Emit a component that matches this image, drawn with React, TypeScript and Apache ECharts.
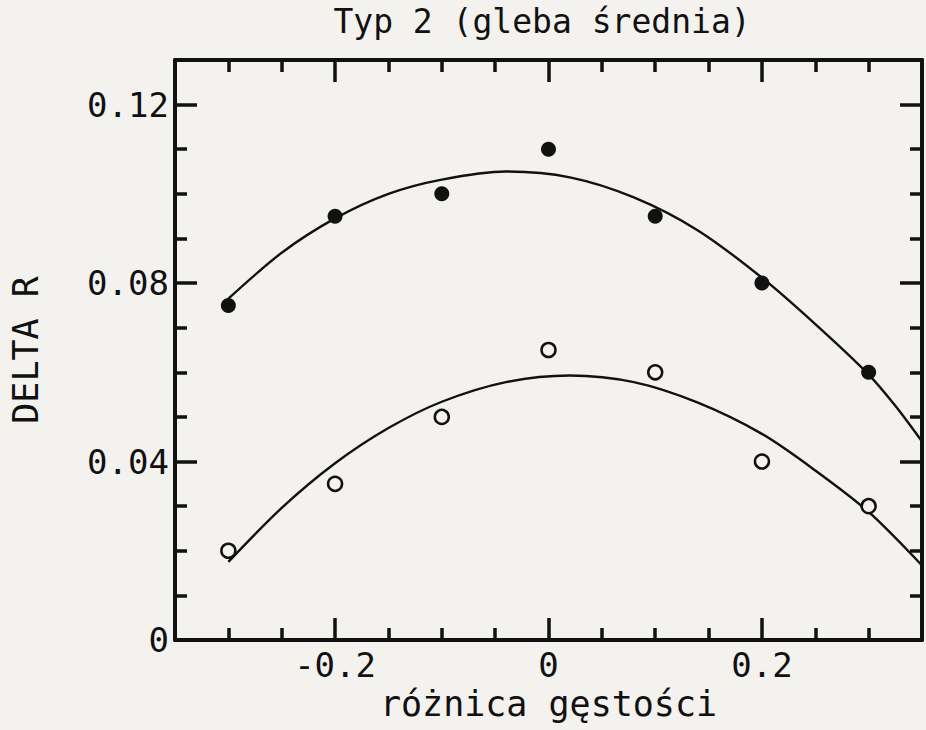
import React, { useEffect, useRef } from "react";
import * as echarts from "echarts";

const titleText = "Typ 2 (gleba średnia)";
const xName = "różnica gęstości";
const yName = "DELTA R";

const xMajorTicks = [-0.2, 0, 0.2];
const xMinorTicks = [-0.3, -0.25, -0.15, -0.1, -0.05, 0.05, 0.1, 0.15, 0.25, 0.3];
const yMajorTicks = [0, 0.04, 0.08, 0.12];
const yMinorTicks = [0.01, 0.02, 0.03, 0.05, 0.06, 0.07, 0.09, 0.1, 0.11];

const pointX = [-0.3, -0.2, -0.1, 0, 0.1, 0.2, 0.3];
const filledY = [0.075, 0.095, 0.1, 0.11, 0.095, 0.08, 0.06];
const openY = [0.02, 0.035, 0.05, 0.065, 0.06, 0.04, 0.03];

const filledCurveX = [-0.3, -0.25, -0.2, -0.15, -0.1, -0.04, 0.02, 0.08, 0.14, 0.2, 0.25, 0.3, 0.325, 0.35];
const filledCurve = [0.0765, 0.0868, 0.0945, 0.1, 0.1032, 0.105, 0.1037, 0.0992, 0.0918, 0.0812, 0.0708, 0.0595, 0.0525, 0.0445];
const openCurveX = [-0.3, -0.25, -0.2, -0.15, -0.1, -0.04, 0.02, 0.08, 0.14, 0.2, 0.25, 0.3, 0.35];
const openCurve = [0.0175, 0.0296, 0.0396, 0.0475, 0.0534, 0.0578, 0.0593, 0.0578, 0.0532, 0.0462, 0.038, 0.0287, 0.0167];

const BG = "#f4f2ef";
const INK = "#111111";
const FONT = "DejaVu Sans Mono";

export default function App() {
  const ref = useRef<HTMLDivElement>(null);

  useEffect(() => {
    if (!ref.current) return;
    const chart = echarts.init(ref.current, undefined, { renderer: "svg" });

    const lbl = { color: INK, fontFamily: FONT, fontSize: 34 };
    const nameStyle = { color: INK, fontFamily: FONT, fontSize: 35 };
    const tickLine = { color: INK, width: 3.5 };

    const xBase = (position: string, major: boolean, labels: boolean) => ({
      type: "value",
      min: -0.35,
      max: 0.35,
      position,
      axisLine: { show: major, onZero: false, lineStyle: { color: INK, width: 4 } },
      axisTick: {
        show: true,
        inside: true,
        length: major ? 22 : 12,
        customValues: major ? xMajorTicks : xMinorTicks,
        lineStyle: tickLine,
      },
      axisLabel: labels
        ? { show: true, customValues: xMajorTicks, margin: 8, ...lbl }
        : { show: false },
      splitLine: { show: false },
    });

    const yBase = (position: string, major: boolean, labels: boolean) => ({
      type: "value",
      min: 0,
      max: 0.13,
      position,
      axisLine: { show: major, onZero: false, lineStyle: { color: INK, width: 4 } },
      axisTick: {
        show: true,
        inside: true,
        length: major ? 22 : 12,
        customValues: major ? yMajorTicks.filter((v) => v !== 0) : yMinorTicks,
        lineStyle: tickLine,
      },
      axisLabel: labels
        ? { show: true, customValues: yMajorTicks, margin: 6, ...lbl }
        : { show: false },
      splitLine: { show: false },
    });

    const xAxes: any[] = [
      {
        ...xBase("bottom", true, true),
        name: xName,
        nameLocation: "middle",
        nameGap: 44,
        nameTextStyle: nameStyle,
      },
      xBase("bottom", false, false),
      xBase("top", true, false),
      xBase("top", false, false),
    ];
    const yAxes: any[] = [
      {
        ...yBase("left", true, true),
        name: yName,
        nameLocation: "middle",
        nameRotate: 90,
        nameGap: 132,
        nameTextStyle: nameStyle,
      },
      yBase("left", false, false),
      yBase("right", true, false),
      yBase("right", false, false),
    ];

    chart.setOption({
      animation: false,
      backgroundColor: BG,
      title: {
        text: titleText,
        left: 537,
        textAlign: "center",
        top: 0,
        textStyle: { color: INK, fontFamily: FONT, fontSize: 33, fontWeight: "normal" },
      },
      grid: { left: 171, right: 4, top: 60, bottom: 90, containLabel: false },
      xAxis: xAxes,
      yAxis: yAxes,
      series: [
        {
          type: "line",
          data: filledCurveX.map((x, i) => [x, filledCurve[i]]),
          smooth: 0.3,
          symbol: "none",
          lineStyle: { color: INK, width: 2.4 },
          z: 2,
        },
        {
          type: "line",
          data: openCurveX.map((x, i) => [x, openCurve[i]]),
          smooth: 0.3,
          symbol: "none",
          lineStyle: { color: INK, width: 2.4 },
          z: 2,
        },
        {
          type: "scatter",
          data: pointX.map((x, i) => [x, filledY[i]]),
          symbol: "circle",
          symbolSize: 15,
          itemStyle: { color: INK, opacity: 1 },
          z: 3,
        },
        {
          type: "scatter",
          data: pointX.map((x, i) => [x, openY[i]]),
          symbol: "circle",
          symbolSize: 14,
          itemStyle: { color: BG, borderColor: INK, borderWidth: 2.5, opacity: 1 },
          z: 3,
        },
      ],
    });

    return () => chart.dispose();
  }, []);

  return (
    <div
      ref={ref}
      style={{ position: "fixed", left: 0, top: 0, width: 926, height: 730, background: BG }}
    />
  );
}
